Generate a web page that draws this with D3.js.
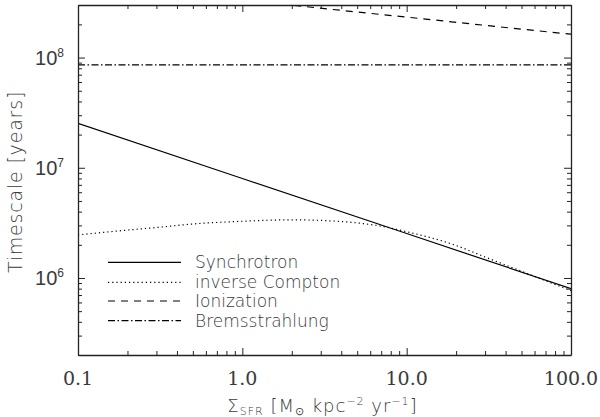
<!DOCTYPE html>
<html><head><meta charset="utf-8">
<script src="https://cdn.jsdelivr.net/npm/d3@7"></script>
<style>
body{margin:0;background:#fff;}
svg{display:block;}
</style></head>
<body>
<svg id="c" width="600" height="417"></svg>
<script>
// ---- data ----
const xTickValues = [0.1, 1, 10, 100];
const xTickLabels = ["0.1", "1.0", "10.0", "100.0"];
const yTickValues = [1e6, 1e7, 1e8];
const yTickExponents = ["6", "7", "8"];

const sigmaSynch = [0.1, 1, 10, 100];
const synchrotron = [2.53e7, 8.0e6, 2.53e6, 8.0e5];

const sigmaIC = [0.1, 0.2, 0.3, 0.5, 1, 2, 3, 5, 7, 10, 20, 30, 50, 100];
const inverseCompton = [2.46e6, 2.72e6, 2.87e6, 3.09e6, 3.27e6, 3.37e6, 3.33e6, 3.16e6, 2.95e6, 2.63e6, 1.97e6, 1.55e6, 1.15e6, 7.67e5];

const sigmaIon = [1, 2, 5, 10, 20, 50, 100];
const ionization = [3.33e8, 2.99e8, 2.59e8, 2.33e8, 2.09e8, 1.81e8, 1.63e8];

const sigmaBrems = [0.1, 100];
const bremsstrahlung = [8.57e7, 8.57e7];

const legendLabels = ["Synchrotron", "inverse Compton", "Ionization", "Bremsstrahlung"];

// ---- layout ----
const L = 78, R = 571, T = 5, B = 355;
const svg = d3.select("#c");
const x = d3.scaleLog().domain([0.1, 100]).range([L, R]);
const y = d3.scaleLog().domain([2e5, 3e8]).range([B, T]);

const styles = [
  {dash: null},
  {dash: "1.2,3"},
  {dash: "7,6"},
  {dash: "7,2.5,1.5,2.5"}
];

svg.append("clipPath").attr("id", "clip").append("rect")
  .attr("x", L).attr("y", T).attr("width", R - L).attr("height", B - T);

const line = d3.line().x(d => x(d[0])).y(d => y(d[1]));
const series = [
  d3.zip(sigmaSynch, synchrotron),
  d3.zip(sigmaIC, inverseCompton),
  d3.zip(sigmaIon, ionization),
  d3.zip(sigmaBrems, bremsstrahlung)
];
const lineCurve = [d3.curveLinear, d3.curveMonotoneX, d3.curveLinear, d3.curveLinear];

const g = svg.append("g").attr("clip-path", "url(#clip)");
series.forEach((s, i) => {
  g.append("path").datum(s)
    .attr("d", line.curve(lineCurve[i]))
    .attr("fill", "none").attr("stroke", "#000")
    .attr("stroke-width", 1.2)
    .attr("stroke-dasharray", styles[i].dash);
});

// ---- axes (ticks inward on all sides) ----
function minorTicks(domain) {
  const out = [];
  const lo = Math.floor(Math.log10(domain[0])), hi = Math.ceil(Math.log10(domain[1]));
  for (let e = lo; e <= hi; e++) for (let m = 2; m <= 9; m++) {
    const v = m * Math.pow(10, e);
    if (v >= domain[0] * 0.999 && v <= domain[1] * 1.001) out.push(v);
  }
  return out;
}
const xMinor = minorTicks(x.domain());
const yMinor = minorTicks(y.domain());

svg.append("g").attr("transform", `translate(0,${B})`)
  .call(d3.axisBottom(x).tickValues(xTickValues).tickSizeInner(-7).tickSizeOuter(0).tickFormat(""));
svg.append("g").attr("transform", `translate(0,${B})`)
  .call(d3.axisBottom(x).tickValues(xMinor).tickSizeInner(-4).tickSizeOuter(0).tickFormat(""))
  .call(a => a.select(".domain").remove());
svg.append("g").attr("transform", `translate(0,${T})`)
  .call(d3.axisTop(x).tickValues(xTickValues).tickSizeInner(-7).tickSizeOuter(0).tickFormat(""));
svg.append("g").attr("transform", `translate(0,${T})`)
  .call(d3.axisTop(x).tickValues(xMinor).tickSizeInner(-4).tickSizeOuter(0).tickFormat(""))
  .call(a => a.select(".domain").remove());

svg.append("g").attr("transform", `translate(${L},0)`)
  .call(d3.axisLeft(y).tickValues(yTickValues).tickSizeInner(-7).tickSizeOuter(0).tickFormat(""));
svg.append("g").attr("transform", `translate(${L},0)`)
  .call(d3.axisLeft(y).tickValues(yMinor).tickSizeInner(-4).tickSizeOuter(0).tickFormat(""))
  .call(a => a.select(".domain").remove());
svg.append("g").attr("transform", `translate(${R},0)`)
  .call(d3.axisRight(y).tickValues(yTickValues).tickSizeInner(-7).tickSizeOuter(0).tickFormat(""));
svg.append("g").attr("transform", `translate(${R},0)`)
  .call(d3.axisRight(y).tickValues(yMinor).tickSizeInner(-4).tickSizeOuter(0).tickFormat(""))
  .call(a => a.select(".domain").remove());

svg.selectAll(".domain").attr("stroke", "#222").attr("stroke-width", 1.3);
svg.selectAll(".tick line").attr("stroke", "#222").attr("stroke-width", 1);

// ---- tick labels ----
const txtCol = "#3a3a3a";
svg.append("g").selectAll("text").data(xTickValues).join("text")
  .attr("x", d => x(d)).attr("y", 385)
  .attr("text-anchor", "middle")
  .attr("font-family", "'DejaVu Serif'").attr("font-size", 19)
  .attr("font-weight", 200)
  .attr("fill", txtCol)
  .text((d, i) => xTickLabels[i]);

const yl = svg.append("g").selectAll("text").data(yTickValues).join("text")
  .attr("x", 64).attr("y", d => y(d) + 7.5)
  .attr("text-anchor", "end")
  .attr("font-family", "'Liberation Sans Narrow', 'Liberation Sans'")
  .attr("fill", txtCol);
yl.append("tspan").attr("font-size", 20).text("10");
yl.append("tspan").attr("font-size", 12).attr("dy", -8).text((d, i) => yTickExponents[i]);

// ---- axis titles ----
svg.append("text")
  .attr("transform", `translate(22,${(T + B) / 2 + 2}) rotate(-90)`)
  .attr("text-anchor", "middle")
  .attr("font-family", "'DejaVu Sans'").attr("font-weight", 200)
  .attr("font-size", 19).attr("letter-spacing", 0.8).attr("fill", txtCol)
  .text("Timescale [years]");

const xt = svg.append("text")
  .attr("x", (L + R) / 2 - 2).attr("y", 412)
  .attr("text-anchor", "middle")
  .attr("font-family", "'DejaVu Sans'").attr("font-weight", 200)
  .attr("font-size", 18).attr("letter-spacing", 1).attr("fill", txtCol);
xt.append("tspan").text("Σ");
xt.append("tspan").attr("font-size", 11).attr("dy", 3).text("SFR");
xt.append("tspan").attr("dy", -3).text(" [M");
xt.append("tspan").attr("font-size", 11).attr("dy", 3).text("⊙");
xt.append("tspan").attr("dy", -3).text(" kpc");
xt.append("tspan").attr("font-size", 11).attr("dy", -7).text("−2");
xt.append("tspan").attr("dy", 7).text(" yr");
xt.append("tspan").attr("font-size", 11).attr("dy", -7).text("−1");
xt.append("tspan").attr("dy", 7).text("]");

// ---- legend ----
const legY = [262.3, 282.3, 301, 320.7];
const lg = svg.append("g");
legendLabels.forEach((lab, i) => {
  lg.append("line").attr("x1", 108).attr("x2", 181)
    .attr("y1", legY[i]).attr("y2", legY[i])
    .attr("stroke", "#000").attr("stroke-width", 1.2)
    .attr("stroke-dasharray", styles[i].dash);
  lg.append("text").attr("x", 195).attr("y", legY[i] + 6)
    .attr("font-family", "'DejaVu Sans'").attr("font-weight", 200)
    .attr("font-size", 17).attr("fill", txtCol).text(lab);
});
</script>
</body></html>
